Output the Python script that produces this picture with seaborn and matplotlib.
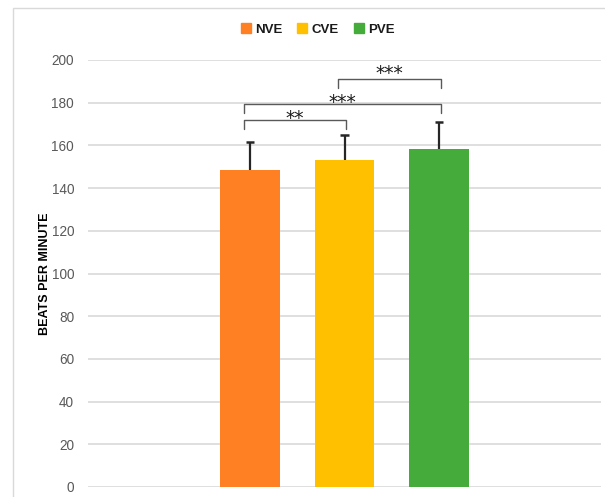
import matplotlib
matplotlib.use("Agg")
import matplotlib.pyplot as plt
import seaborn as sns
import pandas as pd
import numpy as np
from matplotlib.patches import Rectangle
from matplotlib.lines import Line2D

# ---- data ----
groups = ["NVE", "CVE", "PVE"]
means = [148.5, 153.3, 158.3]
sds = [13.2, 11.4, 12.8]
colors = ["#FF7F23", "#FFC000", "#45AC3C"]
yticks = [0, 20, 40, 60, 80, 100, 120, 140, 160, 180, 200]
# significance comparisons: (left group index, right group index, label)
comparisons = [(0, 1, "**"), (0, 2, "***"), (1, 2, "***")]
bracket_tops = [171.9, 179.4, 191.1]
label_gaps = [1.3, 1.2, 2.9]

sns.set_theme(style="white")
plt.rcParams["font.family"] = ["Liberation Sans", "DejaVu Sans"]

fig = plt.figure(figsize=(6.05, 4.97), dpi=100)
ax = fig.add_axes([88 / 605, 1 - 487 / 497, (601 - 88) / 605, (487 - 60) / 497])

df = pd.DataFrame({"group": groups, "mean": means})
sns.barplot(data=df, x="group", y="mean", hue="group", palette=colors,
            order=groups, hue_order=groups, width=0.635, dodge=False,
            saturation=1, legend=False, ax=ax, zorder=3, linewidth=0)

# upward-only error bars with a cap
xpos = np.arange(len(groups))
tops = np.array(means) + np.array(sds)
ax.vlines(xpos, means, tops, color="#262626", lw=1.6, zorder=4)
ax.hlines(tops, xpos - 0.045, xpos + 0.045, color="#262626", lw=1.8, zorder=4)

ax.set_xlim(-1.715, 3.715)
ax.set_ylim(0, 200)
ax.set_yticks(yticks)
ax.set_yticklabels([str(v) for v in yticks], color="#595959", fontsize=9.8)
ax.tick_params(axis="y", length=0, pad=10)
ax.set_xticks([])
ax.set_xlabel("")
ax.set_ylabel("BEATS PER MINUTE", fontsize=9, fontweight="bold",
              color="#000000")
ax.yaxis.set_label_coords((51 - 88) / 513, 0.5)
ax.yaxis.grid(True, color="#D9D9D9", linewidth=1.2, zorder=0)
ax.set_axisbelow(True)
for s in ax.spines.values():
    s.set_visible(False)

# brackets
for (i, j, lab), top, gap in zip(comparisons, bracket_tops, label_gaps):
    xl = i - 0.064 if i == 0 else i - 0.07
    xr = j + 0.02
    ax.plot([xl, xl, xr, xr], [top - 4.3, top, top, top - 4.3],
            color="#595959", lw=1.0, zorder=5, solid_joinstyle="round")
    ax.text((xl + xr) / 2, top - 5.0 + gap, lab, ha="center", va="bottom",
            fontsize=13.5, color="#1a1a1a", zorder=5, family="DejaVu Sans")

# legend
handles = [Line2D([0], [0], marker="s", linestyle="none", markersize=7.5,
                  markerfacecolor=c, markeredgecolor=c) for c in colors]
leg = fig.legend(handles, groups, loc="center", bbox_to_anchor=(317 / 605, 1 - 30 / 497),
                 ncol=3, frameon=False, handletextpad=0.2, columnspacing=1.0,
                 prop={"weight": "bold", "size": 9.5}, handlelength=1.0)
for t in leg.get_texts():
    t.set_color("#1a1a1a")

# outer frame
fig.patches.append(Rectangle((13 / 605, -0.1), 1.2, 1 - 8 / 497 + 0.1,
                             transform=fig.transFigure, fill=False,
                             edgecolor="#D9D9D9", linewidth=1.0))

fig.savefig("out.png", dpi=100)
